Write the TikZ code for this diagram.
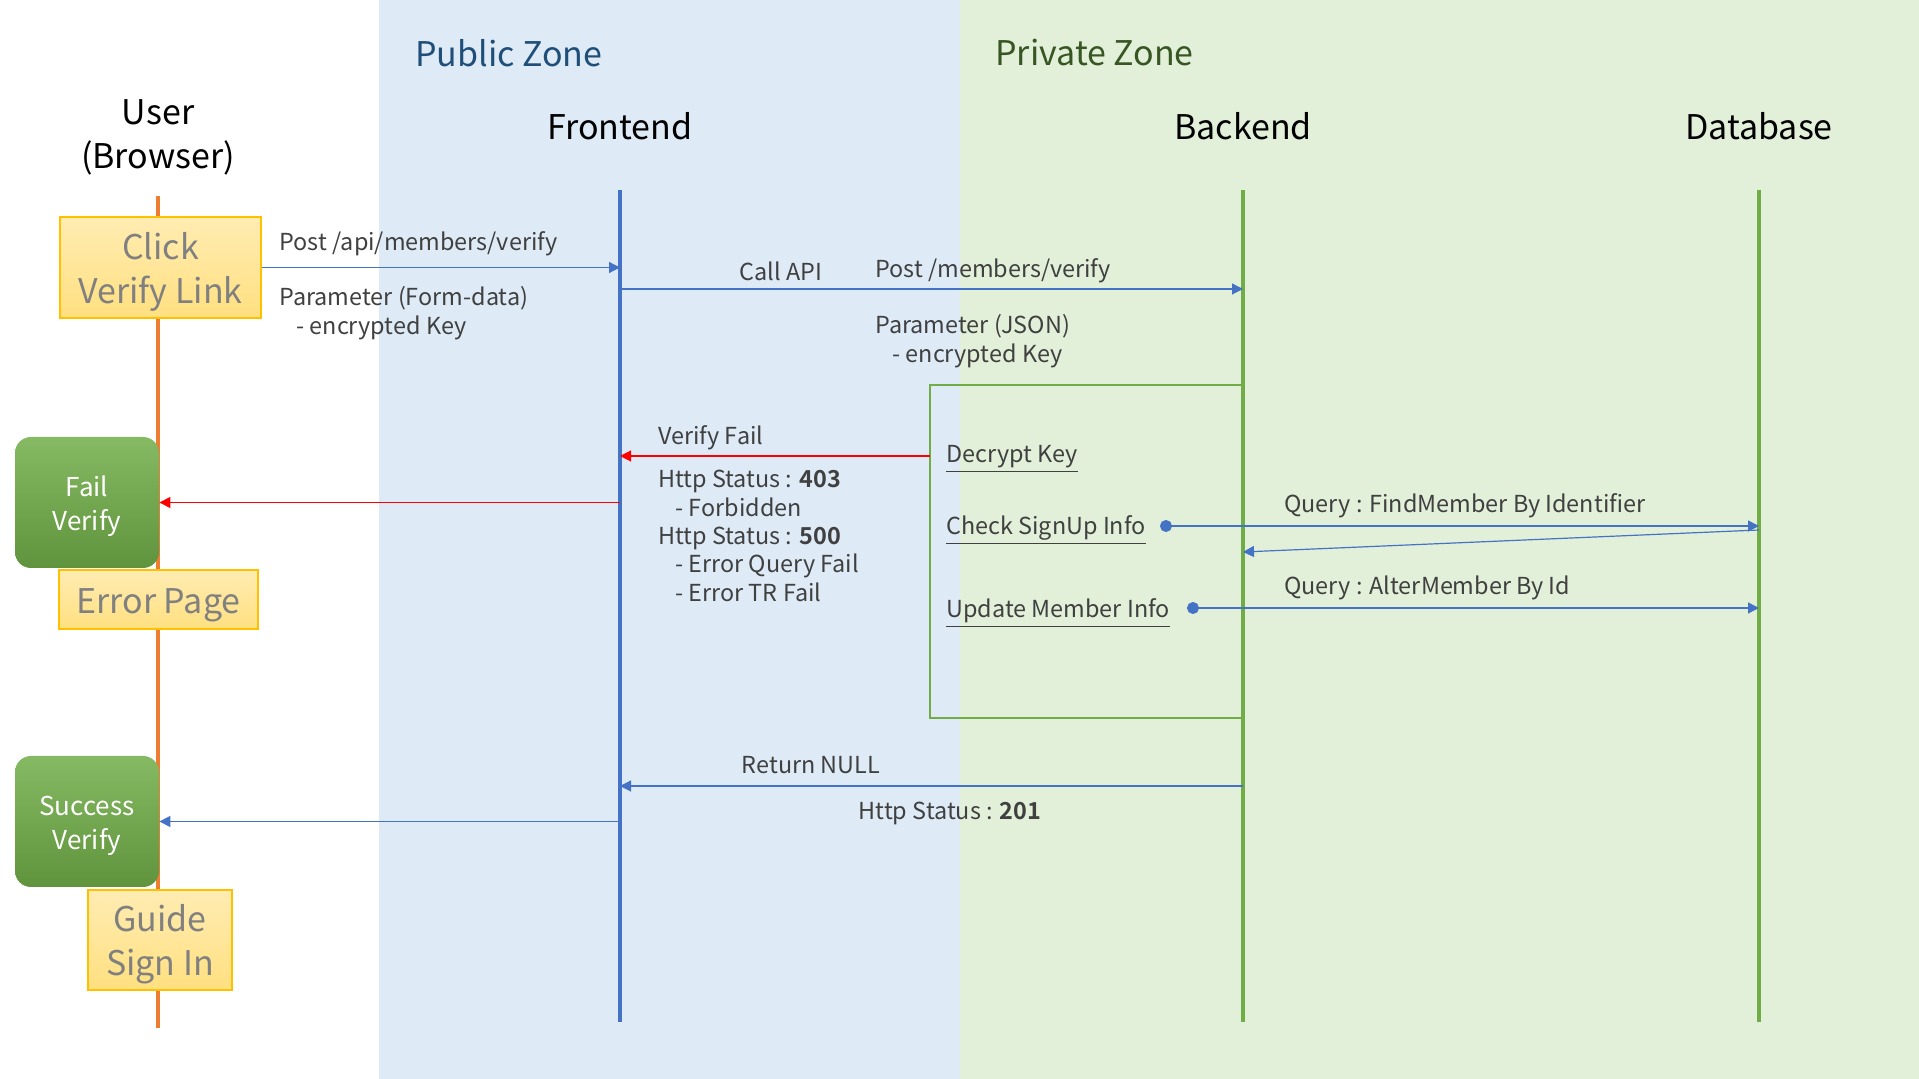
\documentclass[tikz,border=0pt]{standalone}
\usepackage{fontspec}
\setmainfont{Noto Sans CJK KR}[BoldFont={Noto Sans CJK KR Bold}]
\usepackage{xcolor}
\definecolor{ink}{HTML}{404040}
\definecolor{pubzone}{HTML}{DEEBF7}
\definecolor{privzone}{HTML}{E2F0D9}
\definecolor{pubtext}{HTML}{1F4E79}
\definecolor{privtext}{HTML}{375623}
\definecolor{userline}{HTML}{ED7D31}
\definecolor{call}{HTML}{4472C4}
\definecolor{srv}{HTML}{70AD47}
\definecolor{fail}{HTML}{FF0000}
\definecolor{note}{HTML}{FFC000}
\usepackage{tikz}
\usetikzlibrary{arrows.meta, positioning}
% pushes the text of a box a little down
\newcommand{\boxtop}[2][4pt]{\raisebox{0pt}[\dimexpr\height+#1\relax]{#2}}
\tikzset{
  >={Triangle[length=5.5pt, width=5.5pt]},
  zone/.style={font=\fontsize{17}{20}\selectfont, inner sep=0pt, anchor=west},
  head/.style={font=\fontsize{17}{22}\selectfont, align=center, inner sep=0pt, text=black},
  life/.style={line width=1.6pt},
  lbl/.style={font=\fontsize{11.7}{14.2}\selectfont, text=ink, align=left, inner sep=0pt,
    yshift=-2pt},
  note/.style={draw=note, line width=0.6pt, top color=note!30, bottom color=note!50,
    text=black!50, font=\fontsize{17}{22}\selectfont, align=center, inner sep=0pt},
  page/.style={rounded corners=8pt, top color=srv!85, bottom color=srv!85!black,
    draw=none, text=white, font=\fontsize{13}{17}\selectfont, align=center, inner sep=0pt,
    minimum width=72pt, minimum height=65.5pt},
  msg/.style={->, line width=0.6pt, draw=call},
  err/.style={->, line width=0.6pt, draw=fail, >={Triangle[length=5.5pt, width=5.5pt, fill=fail]}},
  qry/.style={{Circle[length=6pt]}->, line width=0.6pt, draw=call},
}

\begin{document}
\begin{tikzpicture}[x=0.5pt, y=-0.5pt]
  \useasboundingbox (0,0) rectangle (1919,1079);

  % The two zones behind the lifelines.
  \fill[pubzone] (379,0) rectangle (960,1079);
  \fill[privzone] (960,0) rectangle (1919,1079);
  \node[zone, text=pubtext] (pub) at (415,53) {Public Zone};
  \node[zone, text=privtext] (priv) at (995,53) {Private Zone};

  % Heads and lifelines.
  \node[head] (user) at (158,137) {User\\(Browser)};
  \node[head] (fe) at (620,126) {Frontend};
  \node[head] (be) at (1243,126) {Backend};
  \node[head] (db) at (1759,126) {Database};
  \coordinate (userT) at (158,196);
  \coordinate (userB) at (158,1028);
  \draw[life, draw=userline] (userT) -- (userB);
  \foreach \n/\x/\c in {fe/620/call, be/1243/srv, db/1759/srv} {
    \coordinate (\n T) at (\x,190);
    \coordinate (\n B) at (\x,1022);
    \draw[life, draw=\c] (\n T) -- (\n B);
  }

  % User side.
  \node[note, minimum width=100.5pt, minimum height=50.5pt] (click) at (160.5,267.5)
    {\boxtop{Click}\\Verify Link};
  \node[page] (failpg) at (87,502.5) {\boxtop{Fail}\\Verify};
  \node[note, minimum width=99.5pt, minimum height=29.5pt] (errpg) at (158.5,599.5)
    {\boxtop[6pt]{Error Page}};
  \node[page] (okpg) at (87,821.5) {\boxtop{Success}\\Verify};
  \node[note, minimum width=72pt, minimum height=50pt] (guide) at (160,940)
    {\boxtop{Guide}\\Sign In};

  % Request to the frontend.
  \draw[msg] (click.east) -- (click.east -| feT);
  \node[lbl, anchor=west] (post1) at (279,240) {Post /api/members/verify};
  \node[lbl, anchor=west] (par1) at (279,309)
    {Parameter (Form-data)\\\hspace*{8.5pt}- encrypted Key};

  % Frontend calls the backend.
  \coordinate (api) at (620,289);
  \draw[msg] (api) -- (api -| beT);
  \node[lbl] (callapi) at (781,267) {Call API};
  \node[lbl, anchor=west] (post2) at (875,267) {Post /members/verify};
  \node[lbl, anchor=west] (par2) at (875,337)
    {Parameter (JSON)\\\hspace*{8.5pt}- encrypted Key};

  % Work done in the backend.
  \node[draw=srv, line width=0.8pt, minimum width=156pt, minimum height=166.5pt,
    inner sep=0pt] (proc) at (1086,551.5) {};
  \node[lbl, anchor=west] (dk) at (946,455) {\underline{Decrypt Key}};
  \node[lbl, anchor=west] (chk) at (946,526) {\underline{Check SignUp Info}};
  \node[lbl, anchor=west] (upd) at (946,609) {\underline{Update Member Info}};

  % Failure path.
  \coordinate (dkl) at (930,456);
  \draw[err] (dkl) -- (dkl -| feT);
  \node[lbl, anchor=west] (vf) at (658,434) {Verify Fail};
  \node[lbl, anchor=west] (codes) at (658,532)
    {Http Status : \textbf{403}\\\hspace*{8.5pt}- Forbidden\\Http Status : \textbf{500}\\
     \hspace*{8.5pt}- Error Query Fail\\\hspace*{8.5pt}- Error TR Fail};
  \draw[err] (failpg.east -| feT) -- (failpg.east);

  % Queries to the database.
  \coordinate (q1) at (1160,526);
  \coordinate (q1r) at (1759,530);
  \coordinate (q1b) at (1243,552);
  \coordinate (q2) at (1187,608);
  \draw[qry] (q1) -- (q1 -| dbT);
  \draw[msg] (q1r) -- (q1b);
  \draw[qry] (q2) -- (q2 -| dbT);
  \node[lbl, anchor=west] (find) at (1284,502) {Query : FindMember By Identifier};
  \node[lbl, anchor=west] (alter) at (1284,584) {Query : AlterMember By Id};

  % Success path.
  \coordinate (ret) at (1243,786);
  \draw[msg] (ret) -- (ret -| feT);
  \node[lbl] (null) at (811,761) {Return NULL};
  \node[lbl] (ok) at (950,809) {Http Status : \textbf{201}};
  \draw[msg] (okpg.east -| feT) -- (okpg.east);
\end{tikzpicture}
\end{document}
